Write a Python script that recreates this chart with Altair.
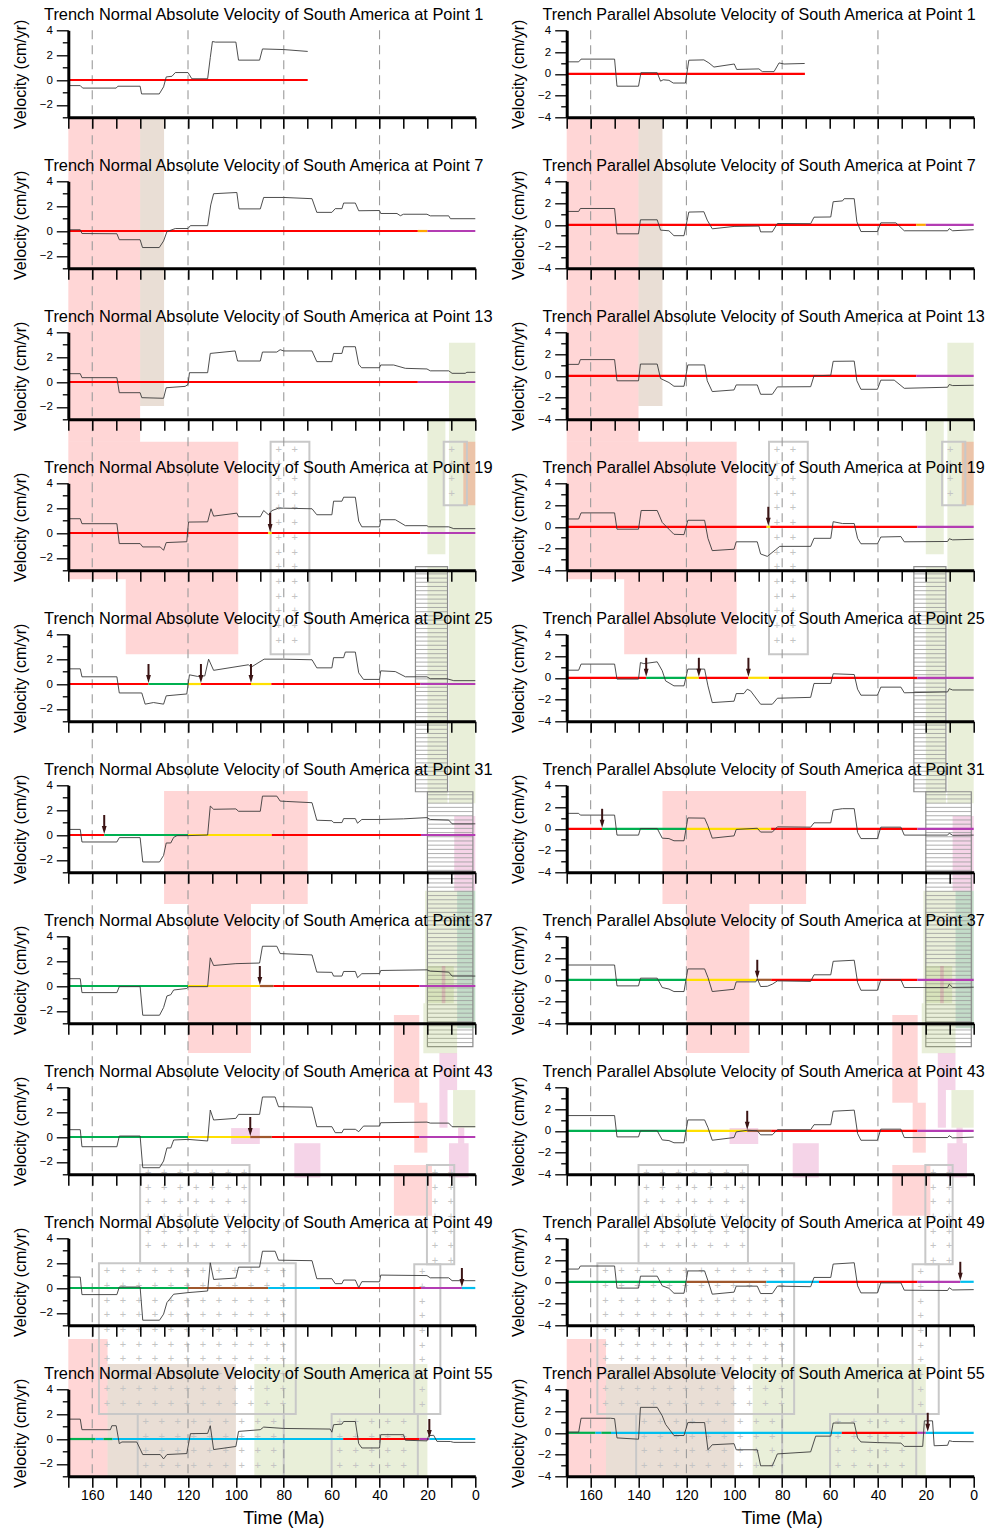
import altair as alt
import numpy as np
import pandas as pd

# ---------------------------------------------------------------- data
POINTS = [1, 7, 13, 19, 25, 31, 37, 43, 49, 55]

# Trench normal velocities (time Ma, velocity cm/yr)
N1_T = [170,165,164,150,149.3,140,139.4,132,130.2,129.1,126.7,125.3,120,118.4,111.8,110.7,109.8,108.6,100,98.9,90.1,88.9,80,70]
N1_V = [-0.45,-0.45,-0.65,-0.65,-0.5,-0.5,-1.12,-1.12,-0.55,0.25,0.3,0.6,0.6,0.1,0.1,1.8,3.1,3.05,3.05,1.6,1.6,2.5,2.45,2.3]
N7_T = [170,165,164.3,149.7,148.7,140,139,132,130.2,128.8,125.3,120,119,111.8,110.5,109.3,99.6,98.7,89.8,88.4,80,68.2,66.2,59.9,58.5,55.7,55,50.1,48.7,40,39.5,32.7,31.3,30,20.2,18.8,11.1,10.4,0]
N7_V = [0.1,0.1,-0.2,-0.22,-0.7,-0.7,-1.33,-1.33,-0.8,-0.05,0.2,0.2,0.43,0.43,2.1,3.0,3.1,1.78,1.78,2.7,2.7,2.6,1.5,1.5,1.8,1.8,2.25,2.25,1.63,1.65,1.41,1.41,1.23,1.35,1.35,1.22,1.22,0.99,0.99]
N13_T = [170,165,164.3,149.7,148.7,140,139.3,130.2,129.1,121.2,120,119.4,111.8,110.7,100.3,99.3,89.8,88.9,82.9,81.5,80,68.2,66.2,59.9,59.2,55.7,55,50.1,48.7,47.5,40,39.5,34.1,29.2,20.2,18.8,11.1,9.7,4.2,3.5,0]
N13_V = [0.67,0.67,0.35,0.35,-0.86,-0.86,-1.26,-1.31,-0.46,-0.35,-0.2,0.75,0.75,2.3,2.5,1.69,1.69,2.41,2.41,2.6,2.5,2.5,1.64,1.64,2.3,2.3,2.84,2.84,1.42,1.15,1.15,1.37,1.37,1.1,1.05,0.9,0.9,0.7,0.7,0.78,0.78]
N19_T = [170,165,164.3,149.7,148.7,140,138.9,131.6,130.2,129.1,120.5,119.8,111.8,110.4,109.3,99.6,98.9,89.8,88.4,86.4,85,82.2,80,68.2,66.2,59.9,59.2,55.7,55,50.1,48.7,47.4,40,39.5,33.4,29.2,20.2,19.5,11.1,9,0]
N19_V = [1.15,1.15,0.75,0.75,-0.85,-0.85,-1.12,-1.12,-1.39,-0.77,-0.7,0.88,0.9,1.95,1.36,1.6,1.31,1.31,1.81,1.47,1.8,2.0,2.0,1.95,1.47,1.47,2.56,2.56,2.88,2.88,0.96,0.5,0.5,1.07,1.07,0.59,0.59,0.5,0.5,0.35,0.35]
N25_T = [170,165,164.3,149.7,148.7,139.3,137.9,134.4,130.2,129.1,120.5,119.4,116,113,111.4,109.3,94.7,93.7,88.2,80,68.2,66.2,59.9,59.2,55,54.3,50.1,48.7,46.7,40,39.5,33.4,29.2,20.2,18.8,11.8,9,0]
N25_V = [1.22,1.22,0.58,0.58,-0.72,-0.72,-1.62,-1.49,-1.62,-0.95,-0.8,0.74,0.61,0.65,2.0,1.1,1.55,1.35,2.0,2.0,1.95,1.3,1.3,2.12,2.12,2.57,2.57,0.9,0.37,0.37,1.06,1.0,0.58,0.58,0.42,0.42,0.27,0.27]
N31_T = [170,165,164.3,149.7,148.7,140,138.9,131.9,130.2,129.1,127.2,126,124.6,120,111.8,110.7,109.3,100,98.9,89.8,88.9,82.9,81.5,78.7,68.2,66.2,59.9,59.2,55.7,55,50.1,49.2,47.4,40,30,20.2,18.8,11.1,9.7,0]
N31_V = [0.45,0.45,-0.56,-0.56,-0.21,-0.21,-2.17,-2.17,-1.64,-0.64,-0.64,-0.19,-0.05,-0.05,0.0,2.33,2.07,2.1,1.91,1.91,3.13,3.13,2.73,2.7,2.6,1.19,1.15,1.0,1.0,1.32,1.32,0.95,1.25,1.25,1.3,1.4,1.25,1.2,0.9,0.9]
N37_T = [170,165,164.3,149.7,148.7,140,138.9,131.9,130.2,128.8,127.2,126,120.5,119.8,111.8,110.7,109.3,100,90.1,88.9,82.9,81.5,68.2,66.2,59.9,59.2,55.7,55,50.1,49.2,47.4,40,39.5,20.2,18.8,11.1,9.7,0]
N37_V = [0.59,0.59,-0.53,-0.53,-0.05,-0.05,-2.35,-2.35,-1.73,-0.8,-0.7,-0.32,-0.2,-0.05,-0.05,2.27,1.65,1.8,1.85,3.2,3.2,2.61,2.5,1.12,1.1,0.8,0.8,1.17,1.17,0.67,0.99,1.0,1.25,1.3,1.2,1.12,0.8,0.8]
N43_T = [170,165,164.3,149.7,148.7,140,138.9,131.9,130.2,128.8,127.2,126,120,111.8,110.7,109.3,100,98.9,90.1,88.9,83.6,82.2,68.2,66.2,59.9,58.5,55.7,55,50.1,48.7,46.7,40,39.5,20.2,18.8,11.1,9.7,0]
N43_V = [0.59,0.59,-0.78,-0.78,0.08,0.08,-2.47,-2.47,-1.93,-0.88,-0.88,-0.24,-0.19,-0.32,2.17,1.37,1.5,1.82,1.82,3.22,3.22,2.44,2.4,0.83,0.83,0.35,0.35,0.62,0.62,0.43,0.88,0.88,1.15,1.2,1.12,1.12,0.83,0.83]
N49_T = [170,165,164.3,149.7,148.7,140,138.9,131.9,130.2,128.8,126,120,111.8,110.7,109.3,100,98.9,90.1,88.9,83.6,82.2,68.2,66.2,59.9,58.5,55.7,55,50.1,48.7,47.4,40,39.5,20.2,18.8,11.1,9.7,0]
N49_V = [0.88,0.88,-0.53,-0.53,0.08,0.08,-2.59,-2.59,-2.1,-1.17,-0.5,-0.37,-0.24,2.03,0.69,0.8,1.68,1.68,2.96,2.96,2.24,2.2,0.75,0.75,0.35,0.35,0.64,0.64,0.03,0.51,0.5,1.04,1.0,0.82,0.82,0.59,0.59]
N55_T = [170,165,164.3,152.4,151.8,150,148.7,147.6,141.4,138.9,131.6,130.2,128.8,120.5,119,111.8,110.7,109.3,100,98.9,89.8,88.4,80,60.6,59.9,59.2,55.7,55,50.1,48.7,47.4,40,39.5,30,29.2,20.2,19.5,17.4,16,10.4,9,0]
N55_V = [1.6,1.6,0.75,0.75,1.07,1.07,-0.37,-0.24,-0.24,-1.25,-1.25,-1.6,-1.25,-1.17,0.43,0.45,1.07,-0.85,-0.6,0.61,0.75,0.96,0.85,0.8,0.55,1.15,1.2,1.41,1.41,-0.37,-0.72,-0.72,0.35,0.35,-0.1,-0.15,0.27,0.3,-0.19,-0.2,-0.27,-0.27]

# Trench parallel velocities
P1_T = [170,165,164,150,149,140,139,132.2,130.8,129.7,127.3,125.5,120.4,119,112.7,110.6,108.5,100,99,89.7,88.3,83.4,81.3,79.2,70.6]
P1_V = [1.1,1.1,1.35,1.35,-1.14,-1.14,0.1,0.1,-0.68,-0.55,-0.6,-0.85,-0.85,1.25,1.28,1.0,0.62,0.9,0.4,0.45,0.2,0.2,1.0,0.9,0.95]
P7_T = [170,165,164.3,150,149,140,139.2,132.2,130.8,127.3,125.2,121,119,112.7,111.3,109.2,100.1,89.7,89,84.1,82,68.1,66.7,59.7,58.7,54.8,54.1,49.9,48.8,47.1,40.2,38.8,32.5,29,10.9,10.2,8.8,0]
P7_V = [1.23,1.23,1.5,1.5,-0.83,-0.83,0.46,0.46,-0.49,-0.55,-1.0,-1.0,1.17,1.2,0.43,-0.37,-0.15,-0.12,-0.65,-0.65,0.12,0.1,0.7,0.72,2.12,2.2,2.4,2.4,0.28,-0.62,-0.62,0.18,0.18,-0.55,-0.55,-0.35,-0.55,-0.45]
P13_T = [170,165,164.3,150,149,140,139.2,132.2,130.8,127.3,125.2,121,119.4,112.4,111.3,109.2,100.1,99.2,90.4,89,84.1,82,68.1,66.7,59.7,58.7,49.9,48.8,47.1,40.2,38.8,33.2,29,10.9,10.2,8.8,0]
P13_V = [1.05,1.05,1.49,1.49,-0.46,-0.46,1.08,1.08,-0.25,-0.62,-0.96,-0.96,1.0,1.0,-0.46,-1.45,-1.3,-0.84,-0.84,-1.7,-1.7,-1.02,-1.0,0.0,0.05,1.33,1.35,-0.46,-1.24,-1.24,-0.4,-0.4,-1.15,-1.05,-0.8,-0.9,-0.87]
P19_T = [170,165,164,150,149,140,138.9,132.2,130.1,127.3,125.2,121,119.4,112.4,111,109.2,100.1,99.2,90.4,89,86.2,82.7,81,68.1,66.7,59.7,58.7,54.8,49.9,48.5,47.1,40.2,38.8,30.4,29,10.9,10.2,8.8,0]
P19_V = [0.72,0.72,1.28,1.28,-0.22,-0.22,1.5,1.5,0.4,-0.22,-0.69,-0.72,0.6,0.6,-1.06,-2.19,-2.06,-1.38,-1.38,-2.5,-2.72,-2.1,-1.8,-1.8,-1.06,-1.06,0.47,0.3,0.3,-1.06,-1.56,-1.56,-0.94,-0.9,-1.38,-1.35,-1.1,-1.2,-1.15]
P25_T = [170,165,164,150,149,140,139.2,137.8,132.2,130.1,128.7,125.2,121,119.4,112.4,111,109.2,100.1,99.2,96,94.6,93.2,89,84.1,82,68.1,66.7,59.7,58.7,49.9,48.5,47.1,40.2,38.8,30.4,29,10.9,10.2,8.8,0]
P25_V = [0.7,0.7,1.26,1.26,-0.12,-0.12,1.4,1.3,1.47,0.65,-0.28,-0.74,-0.74,0.8,0.8,-0.74,-2.28,-2.15,-1.45,-1.45,-1.05,-1.2,-2.43,-2.43,-1.88,-1.8,-0.52,-0.52,0.37,0.3,-1.05,-1.6,-1.6,-0.86,-0.86,-1.38,-1.3,-1.0,-1.12,-1.12]
P31_T = [170,165,164.3,150,149,140,139.2,132.2,130.1,127.3,125.2,121,119.4,112.4,111,109.2,100.1,99.2,90.4,89,84.1,82,68.1,66.7,59.7,58.7,54.8,49.9,48.5,47.1,40.2,38.8,30.4,29,10.9,10.2,8.8,0]
P31_V = [1.42,1.42,1.26,1.26,-0.58,-0.58,0.03,0.03,-0.86,-0.9,-1.1,-1.1,1.0,0.98,0.27,-0.86,-0.65,-0.06,0.05,-0.3,-0.3,0.18,0.15,0.55,0.55,1.72,1.85,1.85,-0.34,-0.9,-0.9,0.15,0.15,-0.58,-0.58,-0.4,-0.6,-0.58]
P37_T = [170,150,149,140,139.2,132.2,130.1,127.3,125.2,121,119.4,112.4,111,109.2,100.1,99.2,91,90.4,89,86.2,84.1,82,68.1,66.7,59.7,58.7,49.9,48.5,47.1,40.2,38.8,30.4,29,10.9,10.2,8.8,0]
P37_V = [1.36,1.36,-0.56,-0.56,0.15,0.15,-0.71,-0.85,-1.08,-1.08,1.0,1.0,0.22,-1.08,-0.87,-0.19,-0.19,0.1,-0.62,-0.6,-0.4,-0.1,-0.15,0.46,0.46,1.7,1.8,-0.25,-0.96,-0.96,0.0,0.0,-0.71,-0.71,-0.4,-0.7,-0.68]
P43_T = [170,150,149,140,139.2,132.2,130.1,127.3,125.2,121,119.4,112.4,111,109.2,100.1,99.2,94.6,90.4,89,84.1,82,68.1,66.7,59.7,58.7,49.9,48.5,47.1,40.2,38.8,30.4,29,10.9,10.2,8.8,0]
P43_V = [1.4,1.4,-0.56,-0.56,0.0,0.0,-0.84,-0.9,-1.1,-1.1,1.0,1.0,0.3,-0.87,-0.62,-0.1,0.05,0.0,-0.37,-0.37,0.1,0.1,0.56,0.56,1.8,1.9,-0.25,-0.87,-0.87,0.15,0.15,-0.62,-0.62,-0.45,-0.65,-0.58]
P49_T = [170,165,164.3,150,149,140,139.2,132.2,130.1,127.3,125.2,121,119.4,112.4,111,109.2,100.1,99.2,90.4,89,84.1,82,68.1,66.7,59.7,58.7,49.9,48.5,47.1,40.2,38.8,30.4,29,10.9,10.2,8.8,0]
P49_V = [1.17,1.17,1.45,1.45,-0.58,-0.58,0.52,0.52,-0.37,-0.6,-1.05,-1.05,1.0,1.0,0.1,-1.14,-0.95,-0.4,-0.4,-1.08,-1.08,-0.4,-0.45,0.4,0.4,1.63,1.75,-0.37,-1.02,-1.02,-0.1,-0.1,-0.77,-0.8,-0.55,-0.75,-0.72]
P55_T = [170,165,164,151.7,150,149,140,139.2,132.2,130.1,128.7,125.2,121,119.4,112.4,111,109.2,100.1,99.2,90.4,89,84.1,82,68.1,66,59.7,58.7,49.9,48.5,47.1,40.2,30.4,29,21.3,20.6,17.2,16.5,10.9,10.2,8.8,0]
P55_V = [0.06,0.06,1.34,1.34,1.3,-0.47,-0.59,2.34,2.34,1.56,0.78,-0.25,-0.25,0.94,0.94,-1.56,-1.1,-1.0,-1.56,-1.56,-3.03,-3.03,-1.94,-1.75,-0.31,-0.31,0.9,0.9,-0.47,-0.84,-0.9,-0.95,-1.25,-1.25,1.1,1.1,-1.19,-1.15,-0.72,-0.8,-0.82]

# Coloured segments of the zero line: (from Ma, to Ma, colour)
ZN1 = [(170, 70, "red")]
ZP1 = [(170, 70.5, "red")]
ZN7 = [(170, 24, "red"), (24, 20, "orange"), (20, 0, "purple")]
ZP7 = [(170, 24, "red"), (24, 20, "orange"), (20, 0, "purple")]
ZN13 = [(170, 24, "red"), (24, 0, "purple")]
ZP13 = [(170, 24, "red"), (24, 0, "purple")]
ZN19 = [(170, 86.5, "red"), (86.5, 85, "yellow"), (85, 23, "red"), (23, 0, "purple")]
ZP19 = [(170, 86.5, "red"), (86.5, 85, "yellow"), (85, 23.5, "red"), (23.5, 0, "purple")]
ZN25 = [(170, 136.5, "red"), (136.5, 120, "green"), (120, 114.6, "yellow"), (114.6, 93.7, "red"),
        (93.7, 85.2, "yellow"), (85.2, 23, "red"), (23, 0, "purple")]
ZP25 = [(170, 136.8, "red"), (136.8, 120, "green"), (120, 114.8, "yellow"), (114.8, 94.1, "red"),
        (94.1, 85.5, "yellow"), (85.5, 23.5, "red"), (23.5, 0, "purple")]
ZN31 = [(170, 155, "red"), (155, 120, "green"), (120, 85, "yellow"), (85, 22.7, "red"), (22.7, 0, "purple")]
ZP31 = [(170, 155.2, "red"), (155.2, 120, "green"), (120, 84.6, "yellow"), (84.6, 23.5, "red"), (23.5, 0, "purple")]
ZN37 = [(170, 120, "green"), (120, 90, "yellow"), (90, 84.3, "brown"), (84.3, 23.3, "red"), (23.3, 0, "purple")]
ZP37 = [(170, 120, "green"), (120, 90.4, "yellow"), (90.4, 84.6, "brown"), (84.6, 23.5, "red"), (23.5, 0, "purple")]
ZN43 = [(170, 120, "green"), (120, 94, "yellow"), (94, 85, "brown"), (85, 23.5, "red"), (23.5, 0, "purple")]
ZP43 = [(170, 120, "green"), (120, 94.6, "yellow"), (94.6, 84.6, "brown"), (84.6, 23.5, "red"), (23.5, 0, "purple")]
ZN49 = [(170, 120, "green"), (120, 86.5, "brown"), (86.5, 64.9, "cyan"), (64.9, 22.7, "red"),
        (22.7, 5.6, "purple"), (5.6, 0, "cyan")]
ZP49 = [(170, 120, "green"), (120, 86.6, "brown"), (86.6, 64.6, "cyan"), (64.6, 23.5, "red"),
        (23.5, 5.6, "purple"), (5.6, 0, "cyan")]
ZN55 = [(170, 158.6, "green"), (158.6, 155.3, "cyan"), (155.3, 151.5, "green"), (151.5, 55.2, "cyan"),
        (55.2, 23.3, "red"), (23.3, 19.2, "purple"), (19.2, 0, "cyan")]
ZP55 = [(170, 158, "green"), (158, 155.5, "cyan"), (155.5, 151.5, "green"), (151.5, 55.1, "cyan"),
        (55.1, 23.5, "red"), (23.5, 20, "purple"), (20, 0, "cyan")]

# Arrow (event) times, Ma
AN = {19: [85.7], 25: [136.5, 114.6, 93.7], 31: [155], 37: [90], 43: [94], 49: [5.6], 55: [19.2]}
AP = {19: [85.8], 25: [136.8, 114.8, 94.1], 31: [155.2], 37: [90.4], 43: [94.6], 49: [5.6], 55: [19.2]}

# Shaded overlays: (kind, from Ma, to Ma, top row, top level, bottom row, bottom level)
# levels are read in the trench-normal velocity units of the given row
OVERLAYS = [
    ("pink", 170, 140, 0, -3, 2, -4.8),
    ("tan", 140, 130, 0, -3, 2, -1.93),
    ("pink", 170, 99, 2, -4.8, 3, -3.72),
    ("pink", 146, 99, 3, -3.72, 4, 2.39),
    ("gray", 85.5, 69.3, 2, -4.8, 4, 2.39),
    ("olive", 11, 0, 2, 3.16, 5, 2.55),
    ("olive", 20, 12.5, 2, -3.05, 3, -1.71),
    ("gray", 13.2, 3.5, 2, -4.8, 3, 2.23),
    ("orange", 5, 0, 2, -4.8, 3, 2.23),
    ("olive", 20, 11.6, 3, -2.71, 5, 2.55),
    ("hatch", 25, 11.6, 3, -2.71, 5, 3.48),
    ("pink", 130, 70, 5, 3.54, 5, -5.55),
    ("pinkp", 8.8, 0, 5, 1.53, 5, -4.48),
    ("pink", 120, 93.7, 5, -5.55, 6, -5.39),
    ("olive", 21, 7.6, 5, -4.48, 6, -1.39),
    ("teal", 7.6, 0, 5, -4.48, 6, -3.4),
    ("hatch", 20, 1, 5, 3.48, 6, -4.88),
    ("olive", 20, 9, 6, 1.61, 6, -1.39),
    ("pinkp", 14, 12.5, 6, 1.61, 6, -1.39),
    ("olive", 21.7, 7.6, 6, -1.39, 6, -5.4),
    ("pink", 34, 23.4, 6, -2.33, 7, 2.76),
    ("pinkp", 15, 7.6, 6, -5.4, 7, 3.78),
    ("pink", 25.5, 20, 7, 2.76, 7, -1.26),
    ("pinkp", 15, 11.6, 7, 3.78, 7, 0.75),
    ("olive", 9.3, 0, 7, 3.78, 7, 0.75),
    ("pinkp", 7.2, 4.6, 7, 0.75, 7, -0.5),
    ("pinkp", 11, 2.8, 7, -0.5, 7, -3.26),
    ("pinkp", 102, 90, 7, 0.72, 7, -0.56),
    ("pinkp", 75.6, 64.7, 7, -0.5, 7, -3.26),
    ("pink", 34, 18.1, 7, -2.25, 7, -6.33),
    ("gray", 140, 94.3, 7, -2.25, 8, 1.99),
    ("gray", 20.2, 8.8, 7, -2.25, 8, 1.91),
    ("gray", 157.2, 75, 8, 1.99, 9, 2.01),
    ("gray", 25.5, 14.6, 8, 1.91, 9, 2.01),
    ("pink", 170, 153.6, 8, -4.1, 9, -3),
    ("tan", 153.6, 100, 8, -6.11, 9, -3),
    ("olive", 92.3, 20, 8, -6.11, 9, -3),
    ("gray", 141, 80, 9, 2.01, 9, -3),
    ("gray", 60, 24, 9, 2.01, 9, -3),
]

DASH_TIMES = [160, 120, 80, 40]

# ---------------------------------------------------------------- styles / layout
W, H, GAP, COLGAP = 407, 87, 64, 91.4
PERIOD = H + GAP
TMAX = 170
DOM = {"N": (-3, 4), "P": (-4, 4)}
FONT = "Liberation Sans"
TITLE_SIZE = {"N": 16.4, "P": 16.1}
SEG_COLORS = {"red": "#ff0000", "green": "#00b050", "yellow": "#ffe000", "purple": "#b33cb3",
              "orange": "#ffa500", "brown": "#a0582d", "cyan": "#00bfef"}
FILLS = {"pink": ("#ff0000", 0.16), "tan": ("#915a2d", 0.2), "olive": ("#a7bf67", 0.25),
         "orange": ("#f6603c", 0.3), "pinkp": ("#cd288c", 0.2), "teal": ("#549b62", 0.35)}
ARROW_COLOR = "#3b1414"

# placement of the first plot (top-left) inside the svg
ORIGIN_X, ORIGIN_Y = 60.3, 22.3
SVG_W, SVG_H = 981, 1522

NORMAL = {1: (N1_T, N1_V, ZN1), 7: (N7_T, N7_V, ZN7), 13: (N13_T, N13_V, ZN13), 19: (N19_T, N19_V, ZN19),
          25: (N25_T, N25_V, ZN25), 31: (N31_T, N31_V, ZN31), 37: (N37_T, N37_V, ZN37),
          43: (N43_T, N43_V, ZN43), 49: (N49_T, N49_V, ZN49), 55: (N55_T, N55_V, ZN55)}
PARALLEL = {1: (P1_T, P1_V, ZP1), 7: (P7_T, P7_V, ZP7), 13: (P13_T, P13_V, ZP13), 19: (P19_T, P19_V, ZP19),
            25: (P25_T, P25_V, ZP25), 31: (P31_T, P31_V, ZP31), 37: (P37_T, P37_V, ZP37),
            43: (P43_T, P43_V, ZP43), 49: (P49_T, P49_V, ZP49), 55: (P55_T, P55_V, ZP55)}


def level_px(rtop, row, v):
    """pixel offset below the plot top of row rtop for a level read in row `row`"""
    return (4 - v) * H / 7.0 + (row - rtop) * PERIOD


def make_panel(kind, r, point):
    lo, hi = DOM[kind]
    ppu = H / (hi - lo)
    to_y = lambda px: hi - px / ppu
    to_t = lambda px: TMAX - px * TMAX / W
    bottom = (r == 9)
    T, V, Z = (NORMAL if kind == "N" else PARALLEL)[point]
    arrows = (AN if kind == "N" else AP).get(point, [])

    xscale = alt.Scale(domain=[TMAX, 0], nice=False, zero=False)
    yscale = alt.Scale(domain=[lo, hi], nice=False, zero=False)
    xaxis = alt.Axis(values=list(range(0, 171, 10)), labels=bottom,
                     labelExpr="datum.value % 20 == 0 ? datum.label : ''",
                     labelFontSize=14, labelPadding=1, labelColor="black", labelFont=FONT,
                     labelFlush=False, labelOverlap=False,
                     tickSize=11, tickWidth=1.5, tickColor="black",
                     domainColor="black", domainWidth=3, grid=False, zindex=1,
                     titleFontSize=18, titleFontWeight="normal", titleColor="black", titleFont=FONT,
                     titleX=215, titleY=47, titleBaseline="alphabetic")
    yaxis = alt.Axis(values=list(range(lo, hi + 1)),
                     labelExpr="datum.value % 2 == 0 ? datum.label : ''",
                     tickSize={"condition": {"test": "datum.value % 2 == 0", "value": 12}, "value": 6},
                     tickWidth=1.3, tickColor="black", domainColor="black", domainWidth=3,
                     grid=False, zindex=1, labelFontSize=11.5, labelPadding=4, labelColor="black",
                     labelFont=FONT,
                     titleFontSize=16, titleFontWeight="normal", titleColor="black", titleFont=FONT,
                     titleX=-43, titleY=H / 2, titleAngle=270, titleBaseline="alphabetic",
                     titleAlign="center")
    xtitle = "Time (Ma)" if bottom else ""

    def X(f):
        return alt.X(f, type="quantitative", scale=xscale, axis=xaxis, title=xtitle)

    def Y(f):
        return alt.Y(f, type="quantitative", scale=yscale, axis=yaxis, title="Velocity (cm/yr)")

    layers = []
    fills, grays, hatches, pluses, hlines = [], [], [], [], []
    for (k, t0, t1, r0, v0, r1, v1) in OVERLAYS:
        if r0 != r:
            continue
        p0, p1 = level_px(r, r0, v0), level_px(r, r1, v1)
        rec = {"a": t0, "b": t1, "y0": to_y(p0), "y1": to_y(p1)}
        if k in FILLS:
            rec["fill"], rec["op"] = FILLS[k]
            fills.append(rec)
        elif k == "gray":
            grays.append(rec)
            x0 = (TMAX - t0) * W / TMAX
            x1 = (TMAX - t1) * W / TMAX
            for xp in np.arange(x0 + 8, x1 - 3, 16):
                for yp in np.arange(p0 + 8, p1 - 3, 14.7):
                    pluses.append({"t": to_t(xp), "y": to_y(yp)})
        else:
            hatches.append(rec)
            for yp in np.arange(p0 + 3, p1 - 1, 4.2):
                hlines.append({"a": t0, "b": t1, "y": to_y(yp)})

    if fills:
        layers.append(alt.Chart(pd.DataFrame(fills)).mark_rect(clip=False, strokeWidth=0).encode(
            x=X("a"), x2="b", y=Y("y0"), y2="y1",
            fill=alt.Fill("fill:N", scale=None), opacity=alt.Opacity("op:Q", scale=None)))
    if hlines:
        layers.append(alt.Chart(pd.DataFrame(hlines)).mark_rule(
            clip=False, color="#9a9a9a", strokeWidth=0.8).encode(x=X("a"), x2="b", y=Y("y")))
    if hatches:
        layers.append(alt.Chart(pd.DataFrame(hatches)).mark_rect(
            clip=False, fillOpacity=0, stroke="#8c8c8c", strokeWidth=1.2).encode(
            x=X("a"), x2="b", y=Y("y0"), y2="y1"))
    if pluses:
        layers.append(alt.Chart(pd.DataFrame(pluses)).mark_text(
            clip=False, text="+", fontSize=11, color="#c4c4c4", font=FONT).encode(x=X("t"), y=Y("y")))
    if grays:
        layers.append(alt.Chart(pd.DataFrame(grays)).mark_rect(
            clip=False, fillOpacity=0, stroke="#c8c8c8", strokeWidth=2).encode(
            x=X("a"), x2="b", y=Y("y0"), y2="y1"))

    # dashed time guides, continuing through the gap below the panel
    dash_bottom = lo if bottom else to_y(H + GAP)
    ddf = pd.DataFrame({"t": DASH_TIMES, "ya": [hi] * 4, "yb": [dash_bottom] * 4})
    layers.append(alt.Chart(ddf).mark_rule(clip=False, strokeDash=[9, 6], color="#9b9b9b",
                                           strokeWidth=1.1).encode(x=X("t"), y=Y("ya"), y2="yb"))

    zdf = pd.DataFrame({"a": [s[0] for s in Z], "b": [s[1] for s in Z], "z": [0.0] * len(Z),
                        "c": [SEG_COLORS[s[2]] for s in Z]})
    layers.append(alt.Chart(zdf).mark_rule(strokeWidth=2.2).encode(
        x=X("a"), x2="b", y=Y("z"), color=alt.Color("c:N", scale=None)))

    vdf = pd.DataFrame({"t": T, "v": V, "i": list(range(len(T)))})
    layers.append(alt.Chart(vdf).mark_line(color="#3a3a3a", strokeWidth=0.9).encode(
        x=X("t"), y=Y("v"), order="i:Q"))

    if arrows:
        adf = pd.DataFrame({"t": arrows, "ya": [20 / ppu] * len(arrows), "yb": [5 / ppu] * len(arrows),
                            "yh": [5 / ppu] * len(arrows)})
        layers.append(alt.Chart(adf).mark_rule(color=ARROW_COLOR, strokeWidth=2).encode(
            x=X("t"), y=Y("ya"), y2="yb"))
        layers.append(alt.Chart(adf).mark_point(shape="M-0.6,-1L0.6,-1L0,1Z", filled=True, size=64,
                                                color=ARROW_COLOR, opacity=1).encode(x=X("t"), y=Y("yh")))

    word = "Normal" if kind == "N" else "Parallel"
    title = alt.TitleParams(text=f"Trench {word} Absolute Velocity of South America at Point {point}",
                            anchor="start", frame="group", dx=-24.3, dy=22.4, offset=5,
                            baseline="alphabetic", fontSize=TITLE_SIZE[kind], font=FONT,
                            fontWeight="normal", color="black")
    return alt.layer(*layers).properties(width=W, height=H, title=title)


panels = []
for r, p in enumerate(POINTS):
    panels.append(make_panel("N", r, p))
    panels.append(make_panel("P", r, p))

chart = alt.concat(*panels, columns=2, spacing={"row": GAP, "column": COLGAP}, bounds="flush").properties(
    autosize=alt.AutoSizeParams(type="none"),
    padding={"left": ORIGIN_X, "top": ORIGIN_Y, "right": SVG_W - ORIGIN_X, "bottom": SVG_H - ORIGIN_Y}
).configure(font=FONT).configure_view(stroke="transparent")

chart.save("out.html", embed_options={"renderer": "svg", "actions": False})
